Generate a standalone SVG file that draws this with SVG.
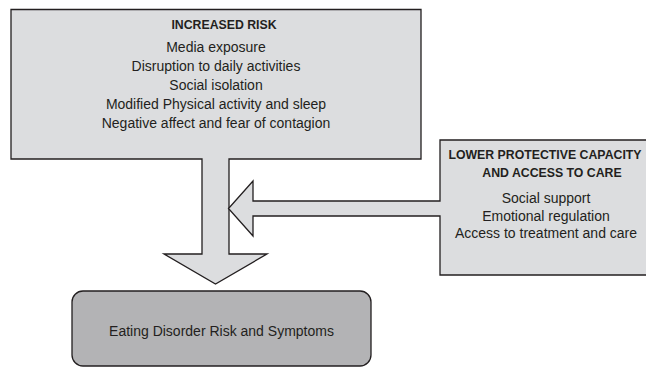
<svg xmlns="http://www.w3.org/2000/svg" width="646" height="367" viewBox="0 0 646 367">
<style>
.shape{stroke:#231f20;stroke-width:1.3;stroke-linejoin:miter}
.light{fill:#dcdddf}
.dark{fill:#b3b3b5}
text{font-family:"Liberation Sans",Arial,sans-serif;fill:#231f20;text-anchor:middle}
.t{font-weight:bold;font-size:12.3px}
.b{font-size:14px}
</style>
<rect width="646" height="367" fill="#ffffff"/>
<g id="connectors">
</g>
<g id="increased-risk">
<path class="shape light" d="M11,9.5 H421 V159 H229 V254 H267 L215.5,284 L164,254 H202 V159 H11 Z"/>
<text class="t" x="224" y="29">INCREASED RISK</text>
<text class="b" x="216" y="52">Media exposure</text>
<text class="b" x="216" y="71">Disruption to daily activities</text>
<text class="b" x="216" y="90">Social isolation</text>
<text class="b" x="216" y="109">Modified Physical activity and sleep</text>
<text class="b" x="216" y="128">Negative affect and fear of contagion</text>
</g>
<g id="lower-protective">
<path class="shape light" d="M440,140 H652 V275 H440 V216 H253 V236 L228.5,208.5 L253,181 V201 H440 Z"/>
<text class="t" x="545" y="159">LOWER PROTECTIVE CAPACITY</text>
<text class="t" x="552" y="177">AND ACCESS TO CARE</text>
<text class="b" x="546" y="203">Social support</text>
<text class="b" x="546" y="221">Emotional regulation</text>
<text class="b" x="546" y="238">Access to treatment and care</text>
</g>
<g id="eating-disorder">
<rect class="shape dark" x="72" y="291" width="299" height="75" rx="11" ry="11"/>
<text class="b" x="221.5" y="336">Eating Disorder Risk and Symptoms</text>
</g>
</svg>
